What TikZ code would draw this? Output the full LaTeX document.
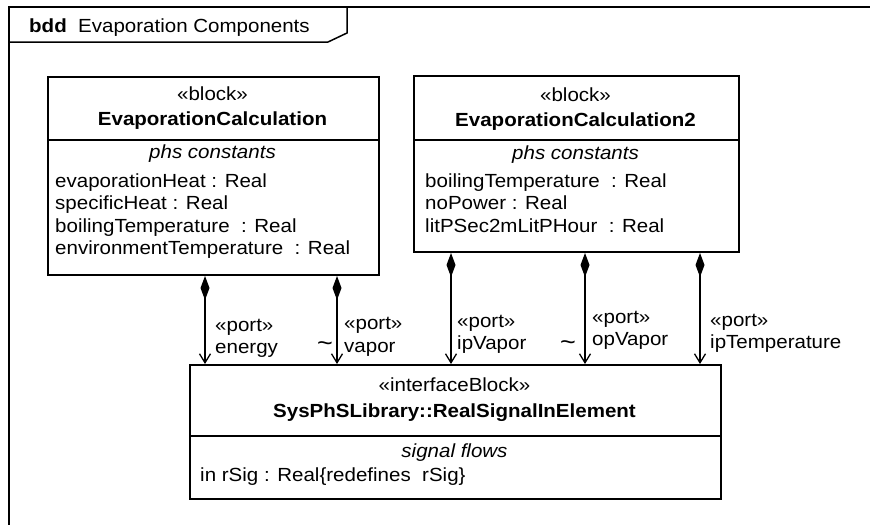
\documentclass[tikz,border=0pt]{standalone}
\usepackage{fontspec}
\setmainfont{Liberation Sans}[FakeStretch=1.08]
\usetikzlibrary{
  arrows.meta,
  positioning,
}

\begin{document}
\begin{tikzpicture}[
  x=1pt, y=-1pt,
  font=\fontsize{19}{22.5}\selectfont,
  every node/.style={inner sep=0pt},
  blockbox/.style={draw, line width=2pt, anchor=north west},
  stereo/.style={anchor=base},
  compartment/.style={anchor=base west, align=left},
  portlabel/.style={anchor=base west, align=left},
  tildemark/.style={font=\fontsize{25}{25}\selectfont},
  compose/.style={line width=1.3pt,
    {Diamond[length=24pt,width=9pt]}-{Straight Barb[length=9pt,width=11pt]}},
]
  % Scale: 1pt = 1px, y grows downwards
  \useasboundingbox (0,0) rectangle (870,525);

  % Diagram frame (right and bottom edges lie outside the picture)
  \draw[line width=2.5pt] (870,7) -- (9,7) -- (9,525);
  \draw[line width=1.5pt] (9,42) -- (328,42) -- (347,33) -- (347,7);
  \node[anchor=base west] (frameTitle) at (29,32)
    {\textbf{bdd}\ \ Evaporation Components};

  % Blocks
  \node[blockbox, minimum width=331pt, minimum height=198pt] (evapCalc) at (47,76) {};
  \node[blockbox, minimum width=325pt, minimum height=176pt] (evapCalcTwo) at (413,75) {};
  \node[blockbox, minimum width=531pt, minimum height=134pt] (sigIn) at (189,364) {};

  % Compartment dividers
  \coordinate (blkDiv) at (0,140);
  \coordinate (sigDiv) at (0,436);
  \draw[line width=2pt] (evapCalc.west |- blkDiv) -- (evapCalc.east |- blkDiv);
  \draw[line width=2pt] (evapCalcTwo.west |- blkDiv) -- (evapCalcTwo.east |- blkDiv);
  \draw[line width=2pt] (sigIn.west |- sigDiv) -- (sigIn.east |- sigDiv);

  % EvaporationCalculation (multi-line nodes sit on their last baseline)
  \node[stereo] (evapCalcSt) at (212.5,100) {«block»};
  \node[stereo] (evapCalcNm) at (212.5,125) {\textbf{EvaporationCalculation}};
  \node[stereo] (evapCalcCp) at (212.5,158) {\textit{phs constants}};
  \node[compartment] (evapCalcAt) at (55,254.5)
    {evaporationHeat : Real\\specificHeat : Real\\boilingTemperature\ \ : Real\\environmentTemperature\ \ : Real};

  % EvaporationCalculation2
  \node[stereo] (evapCalcTwoSt) at (575.5,101) {«block»};
  \node[stereo] (evapCalcTwoNm) at (575.5,126) {\textbf{EvaporationCalculation2}};
  \node[stereo] (evapCalcTwoCp) at (575.5,159) {\textit{phs constants}};
  \node[compartment] (evapCalcTwoAt) at (425,232)
    {boilingTemperature\ \ : Real\\noPower : Real\\litPSec2mLitPHour\ \ : Real};

  % RealSignalInElement
  \node[stereo] (sigInSt) at (454.5,391) {«interfaceBlock»};
  \node[stereo] (sigInNm) at (454.5,417) {\textbf{SysPhSLibrary::RealSignalInElement}};
  \node[stereo] (sigInCp) at (454.5,457) {\textit{signal flows}};
  \node[compartment] (sigInAt) at (200,481) {in rSig : Real\{redefines\ \ rSig\}};

  % Part ports
  \foreach \prt/\px/\blk in {energy/205/evapCalc, vapor/337/evapCalc,
      ipVapor/451/evapCalcTwo, opVapor/585/evapCalcTwo, ipTemp/700/evapCalcTwo} {
    \coordinate (\prt-x) at (\px,0);
    \draw[compose] (\blk.south -| \prt-x) -- (sigIn.north -| \prt-x);
  }

  \node[portlabel] (energyLbl) at (215,353.5) {«port»\\energy};
  \node[portlabel] (vaporLbl) at (344,352) {«port»\\vapor};
  \node[portlabel] (ipVaporLbl) at (457,349.5) {«port»\\ipVapor};
  \node[portlabel] (opVaporLbl) at (592,345.5) {«port»\\opVapor};
  \node[portlabel] (ipTempLbl) at (710,348.5) {«port»\\ipTemperature};
  \node[tildemark] (vaporTilde) at (325,347) {\textasciitilde};
  \node[tildemark] (opVaporTilde) at (568,346) {\textasciitilde};

\end{tikzpicture}
\end{document}
